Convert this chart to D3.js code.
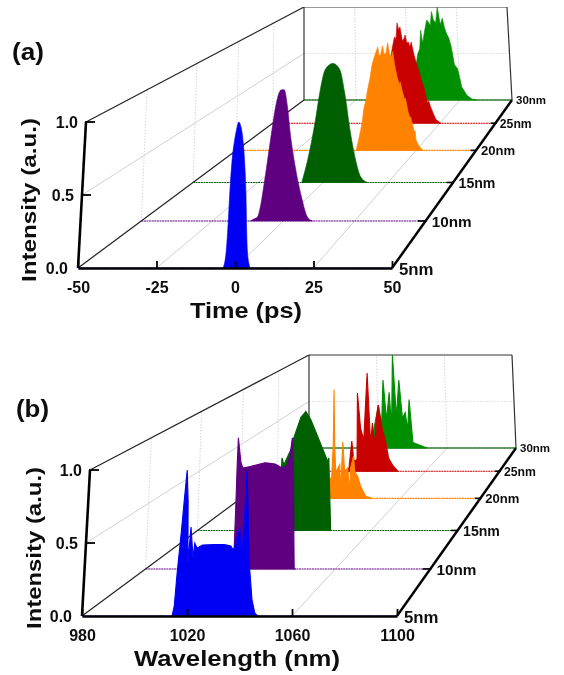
<!DOCTYPE html>
<html>
<head>
<meta charset="utf-8">
<script src="https://cdn.jsdelivr.net/npm/d3@7"></script>
<style>
    body { margin: 0; background: #fff; }
    text { font-family: "Liberation Sans", Arial, sans-serif; font-weight: bold; fill: #111; }
</style>
</head>
<body>
<svg id="chart" width="564" height="675">
    <defs><filter id="soft" x="0" y="0" width="100%" height="100%"><feGaussianBlur stdDeviation="0.4"/></filter></defs>
</svg>
<script>
"use strict";

// series
const depthNm = [5, 10, 15, 20, 25, 30];
const depthLabels = ["5nm", "10nm", "15nm", "20nm", "25nm", "30nm"];
const seriesColors = ["#0000f5", "#5e0080", "#005f00", "#ff8300", "#c80000", "#008f00"];

// axis ticks
const timeTicks = [-50, -25, 0, 25, 50];
const waveTicks = [980, 1020, 1060, 1100];
const intensityTicks = [0, 0.5, 1];

// (a) pulses, time in ps
const t5 = [-3.8, -3.4, -3, -2.6, -2.3, -1.9, -1.3, -0.7, -0.1, 0.5, 1.3, 2.2, 2.9, 3.4, 3.8, 4.4, 4.9];
const a5 = [0, 0.03, 0.1, 0.3, 0.55, 0.74, 0.87, 0.95, 1, 0.98, 0.9, 0.72, 0.5, 0.26, 0.12, 0.03, 0];
const t10 = [-11.6, -10.9, -9.2, -8.2, -7.2, -5.1, -3.5, -2.6, -1.5, -0.5, 0.7, 1.9, 3.9, 6.5, 8.4, 10.2];
const a10 = [0, 0.01, 0.03, 0.11, 0.26, 0.62, 0.87, 0.96, 1, 1, 0.88, 0.67, 0.41, 0.16, 0.03, 0];
const t15 = [-8.2, -6, -3.3, -1.3, 0.6, 3.6, 6.3, 8.2, 10.5, 12.5, 14.4, 17];
const a15 = [0, 0.19, 0.5, 0.78, 0.95, 1, 0.95, 0.76, 0.42, 0.19, 0.05, 0];
const t20 = [0, 1, 2, 2.7, 3.3, 4.2, 5, 6, 7, 8.3, 9.5, 10, 10.8, 11.5, 12.2, 13, 13.7, 14.5, 15.2, 15.8, 16.6, 17.5, 18.5, 18.8, 19.5, 20.5, 20.9, 22, 22.7, 23, 24, 24.5, 24.8, 25, 26, 27, 28];
const a20 = [0, 0.09, 0.19, 0.27, 0.38, 0.46, 0.56, 0.66, 0.79, 0.88, 0.95, 0.86, 0.89, 0.96, 0.88, 0.9, 0.99, 0.88, 0.86, 0.91, 0.78, 0.68, 0.6, 0.63, 0.56, 0.47, 0.48, 0.35, 0.3, 0.31, 0.21, 0.17, 0.18, 0.1, 0.05, 0.02, 0];
const t25 = [-2, 1, 3, 4.5, 5.4, 6.1, 6.7, 7.4, 8, 9, 9.7, 10.3, 11, 11.7, 12.4, 13, 14.3, 15.4, 16.6, 17.6, 18.2, 19.7, 20.4, 21, 22.2, 23.3, 25.5];
const a25 = [0, 0.3, 0.6, 0.77, 0.86, 0.84, 1, 0.93, 0.96, 0.82, 0.84, 0.88, 0.8, 0.81, 0.76, 0.81, 0.67, 0.58, 0.49, 0.4, 0.37, 0.21, 0.22, 0.17, 0.1, 0.04, 0];
const t30 = [2, 4, 4.8, 5.4, 6.4, 7.1, 7.9, 9, 10.2, 11, 11.9, 12.7, 13.5, 14.6, 15.6, 16.8, 17.9, 18.8, 19.6, 20.8, 21.8, 23, 24.4, 25.3, 26.1, 27.2, 28.4, 30.8, 33];
const a30 = [0, 0.3, 0.43, 0.5, 0.55, 0.75, 0.61, 0.74, 0.86, 0.84, 0.8, 0.95, 0.86, 0.83, 1, 0.81, 0.88, 0.78, 0.72, 0.66, 0.57, 0.38, 0.34, 0.24, 0.14, 0.1, 0.05, 0.01, 0];

// (b) spectra, wavelength in nm
const w5 = [1014.3, 1015, 1015.6, 1016.6, 1017.3, 1018, 1018.8, 1019.6, 1020.3, 1021.5, 1022, 1022.9, 1025, 1029.7, 1033.5, 1035.9, 1037, 1037.6, 1039.2, 1040.2, 1040.9, 1041.4, 1042.2, 1043, 1043.6, 1044.6, 1045.8, 1047];
const b5 = [0, 0.07, 0.29, 0.57, 0.79, 1, 0.79, 0.36, 0.61, 0.4, 0.5, 0.465, 0.486, 0.49, 0.49, 0.48, 0.45, 0.49, 0.61, 0.38, 0.66, 1, 0.73, 0.38, 0.29, 0.11, 0.02, 0];
const w10 = [1017, 1017.3, 1017.4, 1017.6, 1019, 1019.9, 1022.9, 1029.3, 1033.7, 1036.8, 1038.9, 1040.1, 1040.9, 1041.6, 1042.1, 1042.6, 1043];
const b10 = [0, 0.5, 0.8, 1, 0.81, 0.77, 0.78, 0.81, 0.8, 0.77, 0.79, 0.87, 1, 0.76, 0.37, 0.01, 0];
const w15 = [1017.2, 1018, 1018.4, 1019.3, 1022.5, 1023.8, 1027, 1029.3, 1031.7, 1035, 1039.8, 1040.3, 1040.8, 1041.4, 1041.6];
const b15 = [0, 0.4, 0.61, 0.55, 0.68, 0.78, 0.95, 1, 0.93, 0.79, 0.58, 0.61, 0.34, 0.01, 0];
const w20 = [1020, 1024, 1025.5, 1026.2, 1026.5, 1026.9, 1027.5, 1029.5, 1030, 1031, 1032, 1033.5, 1034.5, 1035, 1036.5, 1037, 1038.6, 1040, 1042.6, 1045.6];
const b20 = [0, 0.15, 0.2, 0.5, 1, 0.5, 0.24, 0.31, 0.05, 0.52, 0.24, 0.28, 0.05, 0.28, 0.39, 0.25, 0.2, 0.11, 0.02, 0];
const w25 = [1016, 1018.6, 1020.2, 1021.3, 1022.3, 1023, 1023.4, 1025, 1026.7, 1028.8, 1030.4, 1031.5, 1032.6, 1033.7, 1034.7, 1036.9, 1038.5, 1040.1, 1042.3, 1045];
const b25 = [0, 0.03, 0.3, 0.1, 0.11, 0.12, 0.78, 0.43, 0.31, 0.98, 0.28, 0.48, 0.24, 0.53, 0.66, 0.41, 0.31, 0.13, 0.06, 0];
const w30 = [1012, 1016.5, 1020.6, 1022.3, 1023.5, 1025.2, 1027, 1028.1, 1029.3, 1031, 1032.8, 1034.5, 1036.2, 1037.4, 1038.6, 1040.3, 1044.3, 1048.4];
const b30 = [0, 0.09, 0.46, 0.25, 0.73, 0.3, 0.6, 0.22, 1, 0.33, 0.73, 0.32, 0.38, 0.19, 0.52, 0.06, 0.03, 0];


const timeSeries = [[t5, a5], [t10, a10], [t15, a15], [t20, a20], [t25, a25], [t30, a30]];
const waveSeries = [[w5, b5], [w10, b10], [w15, b15], [w20, b20], [w25, b25], [w30, b30]];

const svg = d3.select("#chart");
const root = svg.append("g").attr("filter", "url(#soft)");

// how strongly the depth axis is foreshortened
const perspective = 0.556;
const depthFrac = d3.scaleLinear().domain([5, 30]).range([0, 1]);
const lerp = (a, b, u) => a + (b - a) * u;


function panel(opt) {

    const g = root.append("g");
    const c = opt.corners;
    const scaleX = d3.scaleLinear().domain(opt.domain).range([c.floorFront[0], c.floorFront[1]]);
    const unitX = d3.scaleLinear().domain(opt.domain).range([0, 1]);
    const scaleV = d3.scaleLinear().domain([0, 1]).range([c.yFloorFront, c.yTopFront]);

    const fOf = nm => {
        let s = depthFrac(nm);
        return s * (1 + perspective) / (1 + perspective * s);
    };

    // x value, depth in nm, intensity -> pixel
    function project(x, nm, v) {
        let f = fOf(nm), u = unitX(x);
        let xFloor = lerp(lerp(c.floorFront[0], c.floorBack[0], f), lerp(c.floorFront[1], c.floorBack[1], f), u);
        let xTop = lerp(lerp(c.topFront[0], c.topBack[0], f), lerp(c.topFront[1], c.topBack[1], f), u);
        let yFloor = lerp(c.yFloorFront, c.yFloorBack, f);
        let yTop = lerp(c.yTopFront, c.yTopBack, f);
        return [lerp(xFloor, xTop, v), lerp(yFloor, yTop, v)];
    }

    const seg = (a, b, color, width, dash) => g.append("line")
        .attr("x1", a[0]).attr("y1", a[1])
        .attr("x2", b[0]).attr("y2", b[1])
        .attr("stroke", color)
        .attr("stroke-width", width)
        .attr("stroke-dasharray", dash || null);

    const x0 = opt.domain[0], x1 = opt.domain[1];
    const inner = opt.ticks.slice(1, -1);


    // grid lines
    inner.forEach(t => {
        seg(project(t, 5, 0), project(t, 30, 0), "#cfcfcf", 1);
        seg(project(t, 30, 0), project(t, 30, 1), "#d4d4d4", 1, "1.5 1.5");
    });
    seg(project(x0, 5, 0.5), project(x0, 30, 0.5), "#d0d0d0", 1);
    seg(project(x0, 30, 0.5), project(x1, 30, 0.5), "#dcdcdc", 1, "1.5 1.5");
    depthNm.slice(1, -1).forEach(nm => {
        seg(project(x0, nm, 0), project(x0, nm, 1), "#d4d4d4", 1, "1.5 1.5");
    });


    // box edges
    seg(project(x0, 5, 0), project(x0, 30, 0), "#222", 1.2);
    seg(project(x0, 5, 1), project(x0, 30, 1), "#222", 1.2);
    seg(project(x0, 30, 0), project(x0, 30, 1), "#333", 1.2);
    seg(project(x0, 30, 1), project(x1, 30, 1), "#333", 1.2);
    seg(project(x1, 30, 0), project(x1, 30, 1), "#333", 1.2);
    seg(project(x0, 30, 0), project(x1, 30, 0), "#444", 1);


    // drawing series, back one first
    d3.range(depthNm.length - 1, -1, -1).forEach(i => {
        let nm = depthNm[i];
        let rows = opt.series[i][0].map((x, j) => ({x: x, v: opt.series[i][1][j]}));

        let area = d3.area()
            .curve(i < opt.smooth ? d3.curveMonotoneX : d3.curveLinear)
            .x0(d => project(d.x, nm, 0)[0])
            .y0(d => project(d.x, nm, 0)[1])
            .x1(d => project(d.x, nm, d.v)[0])
            .y1(d => project(d.x, nm, d.v)[1]);

        // colored baseline across the whole floor
        seg(project(x0, nm, 0), project(x1, nm, 0), seriesColors[i], 1.1, "2 0.6");

        g.append("path")
            .datum(rows)
            .attr("d", area)
            .attr("fill", seriesColors[i])
            .attr("stroke", seriesColors[i])
            .attr("stroke-width", opt.markStroke);
    });


    // x axis
    let xAxis = g.append("g")
        .attr("class", "x_axis")
        .attr("transform", `translate(0, ${c.yFloorFront})`)
        .call(d3.axisBottom(scaleX).tickValues(opt.ticks).tickFormat(d => String(d)).tickSizeInner(-7).tickSizeOuter(0).tickPadding(14));
    xAxis.select(".domain").attr("stroke", "#000").attr("stroke-width", 2.6);
    xAxis.selectAll("line").attr("stroke", "#000").attr("stroke-width", 1.8);
    xAxis.selectAll("text").style("font-size", "16px");
    xAxis.attr("font-family", null);


    // y axis
    seg(project(x0, 5, 0), project(x0, 5, 1), "#000", 2.6);
    intensityTicks.forEach(v => {
        let p = project(x0, 5, v);
        if (v > 0) seg([p[0] - 1, p[1]], [p[0] + 9, p[1]], "#000", 1.8);
        g.append("text")
            .attr("x", p[0] - 8 + (v == 0 ? -2 : 0))
            .attr("y", scaleV(v) + 5.5)
            .attr("text-anchor", "end")
            .style("font-size", "16px")
            .text(d3.format(".1f")(v));
    });


    // depth axis
    seg(project(x1, 5, 0), project(x1, 30, 0), "#000", 2.4);
    const labelSize = d3.scaleLinear().domain([0, 1]).range([16.8, 11.5]);
    depthNm.forEach((nm, i) => {
        let p = project(x1, nm, 0), f = fOf(nm);
        if (i > 0 && i < depthNm.length - 1) seg([p[0] - lerp(9, 4, f), p[1]], [p[0] + 1, p[1]], "#000", 1.6);
        g.append("text")
            .attr("x", p[0] + lerp(7, 4, f))
            .attr("y", p[1] + labelSize(f) * 0.38 + (i == 0 ? 1 : 0))
            .style("font-size", labelSize(f) + "px")
            .text(depthLabels[i]);
    });


    // titles
    g.append("text")
        .attr("x", opt.xTitle.x).attr("y", opt.xTitle.y)
        .attr("text-anchor", "middle")
        .attr("textLength", opt.xTitle.w).attr("lengthAdjust", "spacingAndGlyphs")
        .style("font-size", "22px")
        .text(opt.xTitle.text);

    g.append("text")
        .attr("transform", `translate(${opt.yTitle.x}, ${opt.yTitle.y}) rotate(-90)`)
        .attr("text-anchor", "middle")
        .attr("textLength", opt.yTitle.w).attr("lengthAdjust", "spacingAndGlyphs")
        .style("font-size", "21px")
        .text("Intensity (a.u.)");

    g.append("text")
        .attr("x", opt.tag.x).attr("y", opt.tag.y)
        .attr("textLength", opt.tag.w).attr("lengthAdjust", "spacingAndGlyphs")
        .style("font-size", "23px")
        .text(opt.tag.text);
}


panel({
    domain: [-50, 50],
    ticks: timeTicks,
    series: timeSeries,
    smooth: 3,
    markStroke: 0.6,
    corners: {
        floorFront: [78, 392], floorBack: [304, 512],
        topFront: [86, 392], topBack: [304, 507],
        yFloorFront: 268, yFloorBack: 100,
        yTopFront: 122, yTopBack: 7
    },
    xTitle: {text: "Time (ps)", x: 246, y: 318, w: 112},
    yTitle: {x: 36, y: 200, w: 164},
    tag: {text: "(a)", x: 12, y: 60, w: 32}
});

panel({
    domain: [980, 1100],
    ticks: waveTicks,
    series: waveSeries,
    smooth: 0,
    markStroke: 1.1,
    corners: {
        floorFront: [82, 397], floorBack: [309, 516],
        topFront: [90, 397], topBack: [309, 512],
        yFloorFront: 616, yFloorBack: 448,
        yTopFront: 470, yTopBack: 355
    },
    xTitle: {text: "Wavelength (nm)", x: 237, y: 666, w: 206},
    yTitle: {x: 41, y: 548, w: 162},
    tag: {text: "(b)", x: 16, y: 417, w: 33}
});
</script>
</body>
</html>
